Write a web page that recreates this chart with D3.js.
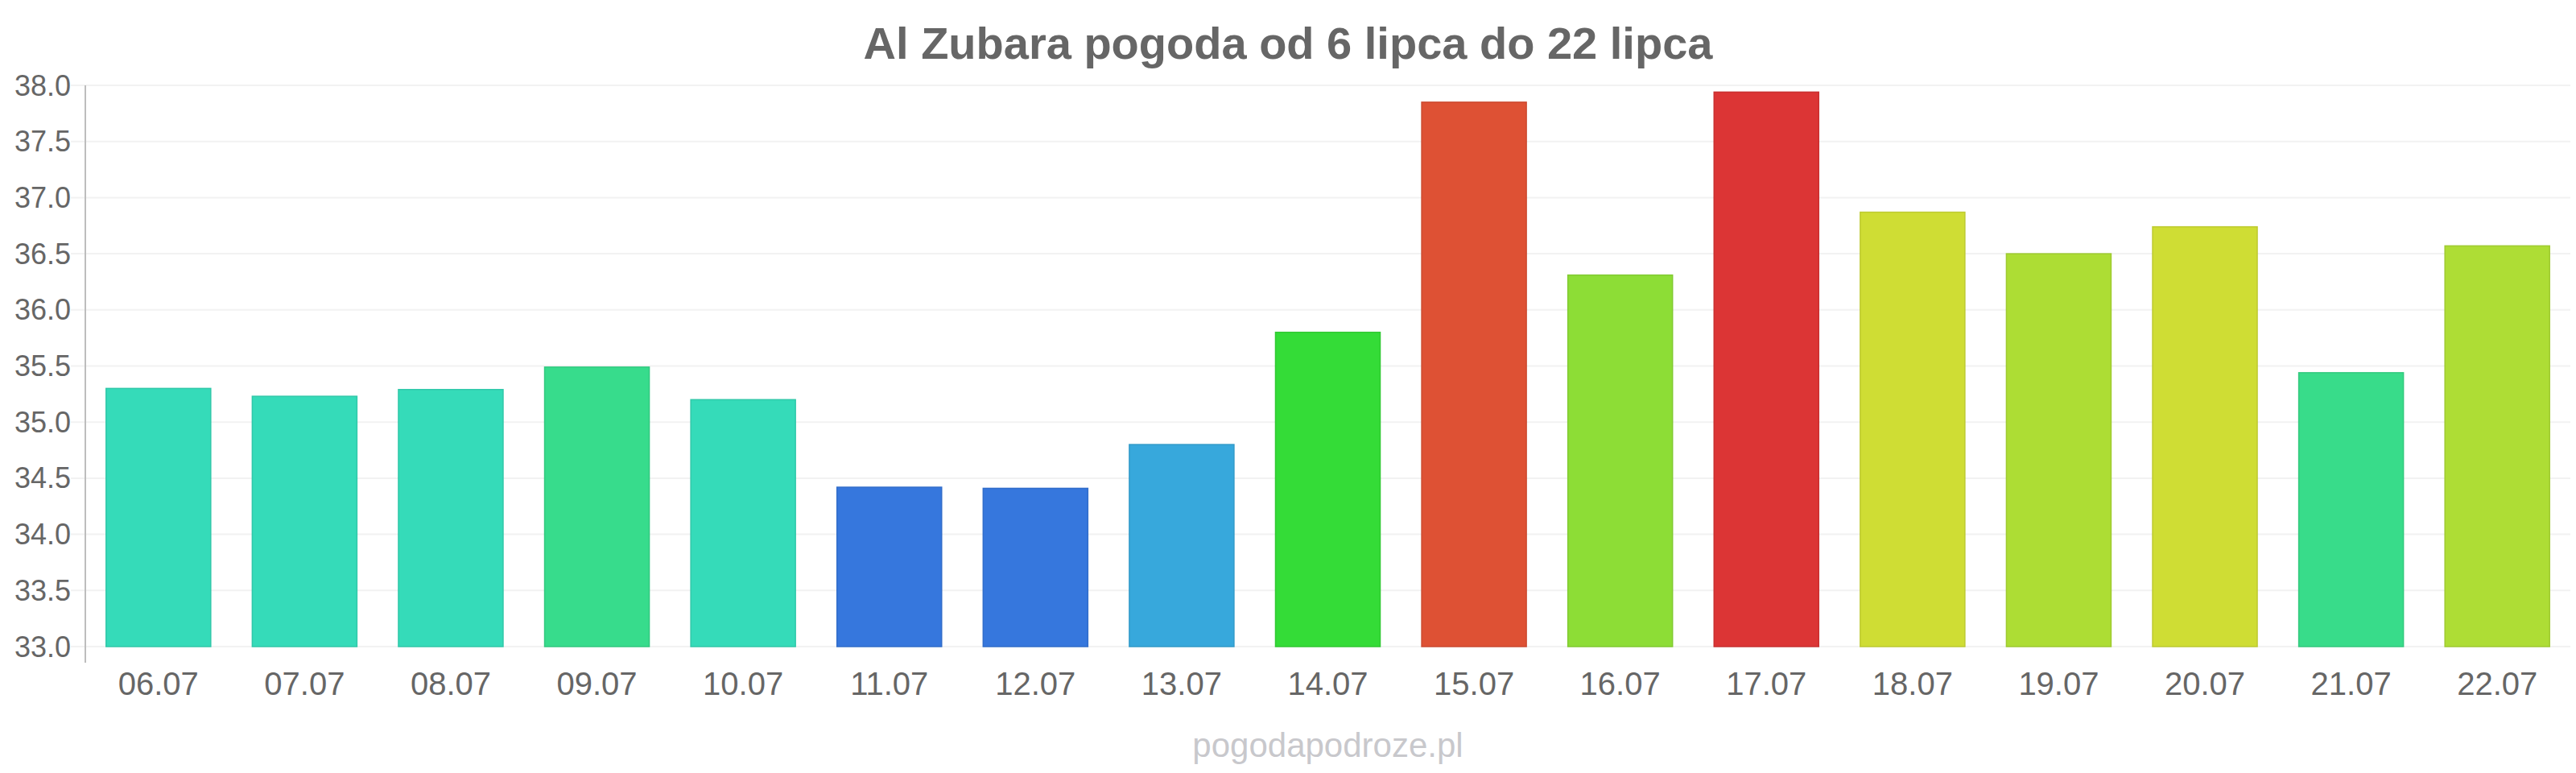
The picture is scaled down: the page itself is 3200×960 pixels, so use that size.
<!DOCTYPE html>
<html>
<head>
<meta charset="utf-8">
<script src="https://cdn.jsdelivr.net/npm/d3@7/dist/d3.min.js"></script>
<style>
  html, body { margin: 0; padding: 0; background: #ffffff; }
  svg { display: block; font-family: "Liberation Sans", Arial, sans-serif; }
</style>
</head>
<body>
<svg id="chart" width="3200" height="960"></svg>
<script>
const categories = ["06.07","07.07","08.07","09.07","10.07","11.07","12.07","13.07","14.07","15.07","16.07","17.07","18.07","19.07","20.07","21.07","22.07"];
const temperatures = [35.30, 35.23, 35.29, 35.49, 35.20, 34.42, 34.41, 34.80, 35.80, 37.85, 36.31, 37.94, 36.87, 36.50, 36.74, 35.44, 36.57];
const yTicks = [33.0, 33.5, 34.0, 34.5, 35.0, 35.5, 36.0, 36.5, 37.0, 37.5, 38.0];
const barColors = ["#35dbb9","#35dbb9","#35dbb9","#37dc8c","#35dbb9","#3677dd","#3677dd","#37a8dc","#34dc37","#de5134","#8ddd36","#dc3535","#cfdd34","#addd34","#cfdd34","#38dc8a","#aedd35"];
const titleText = "Al Zubara pogoda od 6 lipca do 22 lipca";
const watermark = "pogodapodroze.pl";

(function () {
const W = 3200, H = 960;
const mLeft = 106, mRight = 3193, mTop = 106, mBottom = 803;

const svg = d3.select("#chart");

const x = d3.scaleBand().domain(categories).range([mLeft, mRight]).paddingInner(0.284).paddingOuter(0.142);
const y = d3.scaleLinear().domain([33, 38]).range([mBottom, mTop]);

// gridlines
svg.append("g").selectAll("line").data(yTicks).join("line")
  .attr("x1", mLeft - 18).attr("x2", mRight)
  .attr("y1", d => y(d)).attr("y2", d => y(d))
  .attr("stroke", "#f2f2f2").attr("stroke-width", 2);

// y axis line
svg.append("line").attr("x1", mLeft).attr("x2", mLeft).attr("y1", mTop).attr("y2", mBottom + 20)
  .attr("stroke", "#bdbdbd").attr("stroke-width", 2);

// bars
svg.append("g").selectAll("rect").data(temperatures).join("rect")
  .attr("x", (d, i) => x(categories[i]))
  .attr("y", d => y(d))
  .attr("width", x.bandwidth())
  .attr("height", d => mBottom - y(d))
  .attr("fill", (d, i) => barColors[i])
  .attr("stroke", (d, i) => d3.color(barColors[i]).darker(0.25))
  .attr("stroke-width", 1.5);

// y tick labels
svg.append("g").selectAll("text").data(yTicks).join("text")
  .attr("x", 88).attr("y", d => y(d))
  .attr("text-anchor", "end").attr("dominant-baseline", "central")
  .attr("font-size", 36).attr("fill", "#666666")
  .text(d => d.toFixed(1));

// x tick labels
svg.append("g").selectAll("text").data(categories).join("text")
  .attr("x", d => x(d) + x.bandwidth() / 2).attr("y", 863)
  .attr("text-anchor", "middle")
  .attr("font-size", 40).attr("fill", "#666666")
  .text(d => d);

// title
svg.append("text").attr("x", W / 2).attr("y", 73)
  .attr("text-anchor", "middle").attr("font-size", 56).attr("font-weight", "bold")
  .attr("fill", "#666666").text(titleText);

// watermark
svg.append("text").attr("x", (mLeft + mRight) / 2).attr("y", 940)
  .attr("text-anchor", "middle").attr("font-size", 42)
  .attr("fill", "#c8c8cc").text(watermark);
})();
</script>
</body>
</html>
